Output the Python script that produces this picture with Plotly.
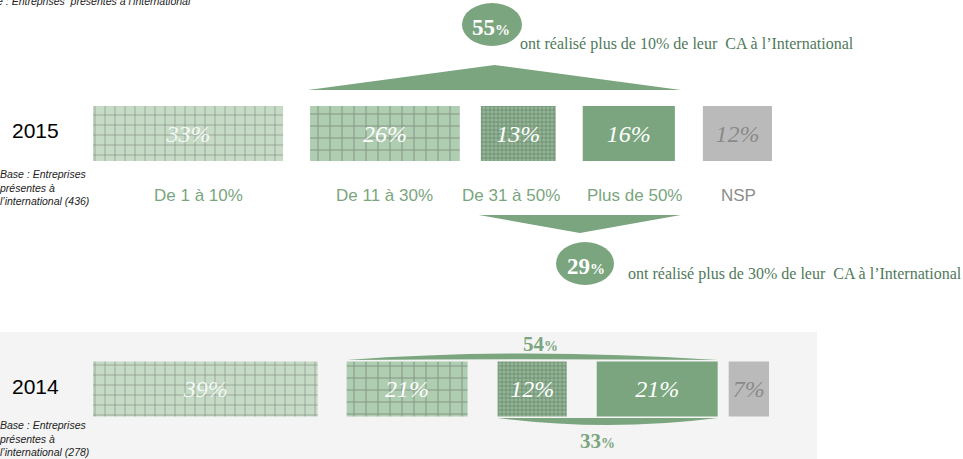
import plotly.graph_objects as go

# --- data -------------------------------------------------------------------
categories = ["De 1 à 10%", "De 11 à 30%", "De 31 à 50%", "Plus de 50%", "NSP"]
share_2015 = [33, 26, 13, 16, 12]
share_2014 = [39, 21, 12, 21, 7]
sample_2015 = 436
sample_2014 = 278
years = ["2015", "2014"]

# --- geometry helpers (pixel canvas, zero margins) -------------------------
W, H = 963, 459
X0 = 93.0          # left edge of the first bar, px
K = 5.76           # px per percentage point
BAR_H = 55
Y15, Y14 = 133.5, 389.0

GREEN = "#7aa57e"
GREY = "#bababa"
TEXT_GREEN = "#4f7a5a"


def ux(v):
    """percentage units on the x axis -> pixel"""
    return X0 + K * v


def xp(px):
    return px / W


def yp(py):
    return 1 - py / H


def bar_starts(values, gaps_px):
    starts, pos = [], 0.0
    for i, v in enumerate(values):
        starts.append(pos)
        pos += v
        if i < len(gaps_px):
            pos += gaps_px[i] / K
    return starts


starts15 = bar_starts(share_2015, [27, 21, 27, 28])
starts14 = bar_starts(share_2014, [29, 30, 30, 11])

# textures of the five classes
pat_shape = ["+", "+", "+", "", ""]
pat_bg = ["#c6dbc6", "#afcdb0", "#90b793", GREEN, GREY]
pat_fg = ["#9ec0a0", "#8ab18d", "#bad4bb", GREEN, GREY]
pat_size = [10, 12, 4, 8, 8]
pat_solid = [0.13, 0.13, 0.3, 0.1, 0.1]
val_colors = ["rgba(255,255,255,0.85)", "white", "white", "white", "#8a8a8a"]

fig = go.Figure()

for yr, vals, starts, yc in [("2015", share_2015, starts15, Y15),
                             ("2014", share_2014, starts14, Y14)]:
    fig.add_trace(go.Bar(
        orientation="h",
        x=vals,
        base=starts,
        y=[yc] * len(vals),
        width=BAR_H,
        name=yr,
        customdata=categories,
        text=[f"{v}%" for v in vals],
        textposition="inside",
        insidetextanchor="middle",
        textangle=0,
        constraintext="none",
        textfont=dict(family="Liberation Serif", size=24, style="italic",
                      color=val_colors),
        marker=dict(
            color=pat_bg,
            line=dict(width=0),
            pattern=dict(shape=pat_shape, fgcolor=pat_fg,
                         size=pat_size, solidity=pat_solid,
                         fillmode="overlay"),
        ),
        hovertemplate="%{customdata}: %{x}%<extra>" + yr + "</extra>",
        showlegend=False,
    ))

shapes = []
annotations = []

# light panel behind the 2014 row
shapes.append(dict(type="rect", xref="paper", yref="paper", layer="below",
                   x0=0, x1=xp(817), y0=0, y1=yp(332),
                   fillcolor="#f4f4f4", line=dict(width=0)))

# --- 2015 row decorations ---------------------------------------------------
over10_15 = sum(share_2015[1:4])
over30_15 = sum(share_2015[2:4])
l_top = ux(starts15[1]) - 2
r_top = ux(starts15[3] + share_2015[3]) + 6
apex = (l_top + r_top) / 2
shapes.append(dict(type="path", xref="paper", yref="paper",
                   path=f"M {xp(l_top)},{yp(90)} L {xp(apex)},{yp(65)} "
                        f"L {xp(r_top)},{yp(90)} Z",
                   fillcolor=GREEN, line=dict(width=0)))
l_bot = ux(starts15[2]) - 2
r_bot = r_top
shapes.append(dict(type="path", xref="paper", yref="paper",
                   path=f"M {xp(l_bot)},{yp(215)} L {xp(r_bot)},{yp(215)} "
                        f"L {xp((l_bot + r_bot) / 2)},{yp(233)} Z",
                   fillcolor=GREEN, line=dict(width=0)))

# bubbles
shapes.append(dict(type="circle", xref="paper", yref="paper",
                   x0=xp(462), x1=xp(522), y0=yp(46), y1=yp(3),
                   fillcolor=GREEN, line=dict(width=0)))
shapes.append(dict(type="circle", xref="paper", yref="paper",
                   x0=xp(556), x1=xp(614), y0=yp(285), y1=yp(242),
                   fillcolor=GREEN, line=dict(width=0)))

pct_small = "<span style='font-size:15px'>%</span>"
note_font = dict(family="Liberation Serif", size=16, color=TEXT_GREEN)
annotations += [
    dict(x=xp(491), y=yp(27), text=f"{over10_15}{pct_small}",
         font=dict(family="Liberation Serif", size=23, color="white",
                   weight="bold")),
    dict(x=xp(518), y=yp(44), xanchor="left",
         text="ont réalisé plus de 10% de leur&nbsp; CA à l’International",
         font=note_font),
    dict(x=xp(586), y=yp(266), text=f"{over30_15}{pct_small}",
         font=dict(family="Liberation Serif", size=23, color="white",
                   weight="bold")),
    dict(x=xp(626), y=yp(274), xanchor="left",
         text="ont réalisé plus de 30% de leur&nbsp; CA à l’International",
         font=note_font),
]

# class labels under the 2015 bars (small nudges keep them clear of each other)
label_dx = [10, 0, -7, 6, 1]
for cat, s, v, dx in zip(categories, starts15, share_2015, label_dx):
    annotations.append(dict(
        x=xp(ux(s + v / 2) + dx), y=yp(195), text=cat,
        font=dict(family="Liberation Sans", size=17,
                  color="#8c8c8c" if cat == "NSP" else GREEN)))

# --- 2014 row decorations ---------------------------------------------------
over10_14 = sum(share_2014[1:4])
over30_14 = sum(share_2014[2:4])
a = ux(starts14[1])
b = ux(starts14[3] + share_2014[3])
m = a + (b - a) * 0.47
shapes.append(dict(type="path", xref="paper", yref="paper",
                   path=f"M {xp(a)},{yp(360)} Q {xp(m)},{yp(347)} {xp(b)},{yp(360)} "
                        f"Q {xp(m)},{yp(358.5)} {xp(a)},{yp(360)} Z",
                   fillcolor=GREEN, line=dict(width=0)))
c = ux(starts14[2])
d = b
mc = (c + d) / 2
shapes.append(dict(type="path", xref="paper", yref="paper",
                   path=f"M {xp(c)},{yp(418)} L {xp(d)},{yp(418)} "
                        f"Q {xp(mc)},{yp(432)} {xp(c)},{yp(418)} Z",
                   fillcolor=GREEN, line=dict(width=0)))
pct_small2 = "<span style='font-size:14px'>%</span>"
annotations += [
    dict(x=xp(540), y=yp(344), text=f"{over10_14}{pct_small2}",
         font=dict(family="Liberation Serif", size=21, color=GREEN,
                   weight="bold")),
    dict(x=xp(mc - 10), y=yp(441), text=f"{over30_14}{pct_small2}",
         font=dict(family="Liberation Serif", size=21, color=GREEN,
                   weight="bold")),
]

# --- left-hand labels -------------------------------------------------------
base_font = dict(family="Liberation Sans", size=10.5, color="#222222",
                 style="italic")
annotations += [
    dict(x=xp(193), y=yp(1), xanchor="right",
         text="Base : Entreprises&nbsp; présentes à l’international",
         font=base_font),
    dict(x=xp(10), y=yp(130), xanchor="left", text=years[0],
         font=dict(family="Liberation Sans", size=21, color="black")),
    dict(x=xp(10), y=yp(386), xanchor="left", text=years[1],
         font=dict(family="Liberation Sans", size=21, color="black")),
    dict(x=xp(-3), y=yp(187), xanchor="left", align="left",
         text=f"Base : Entreprises<br>présentes à<br>l’international ({sample_2015})",
         font=base_font),
    dict(x=xp(-3), y=yp(438), xanchor="left", align="left",
         text=f"Base : Entreprises<br>présentes à<br>l’international ({sample_2014})",
         font=base_font),
]

for an in annotations:
    an.setdefault("xref", "paper")
    an.setdefault("yref", "paper")
    an.setdefault("xanchor", "center")
    an.setdefault("yanchor", "middle")
    an.setdefault("showarrow", False)

fig.update_layout(
    width=W, height=H,
    margin=dict(l=0, r=0, t=0, b=0),
    paper_bgcolor="white",
    plot_bgcolor="rgba(0,0,0,0)",
    barmode="overlay",
    xaxis=dict(range=[-X0 / K, (W - X0) / K], visible=False, fixedrange=True),
    yaxis=dict(range=[H, 0], visible=False, fixedrange=True),
    shapes=shapes,
    annotations=annotations,
)

fig.write_html("out.html")
